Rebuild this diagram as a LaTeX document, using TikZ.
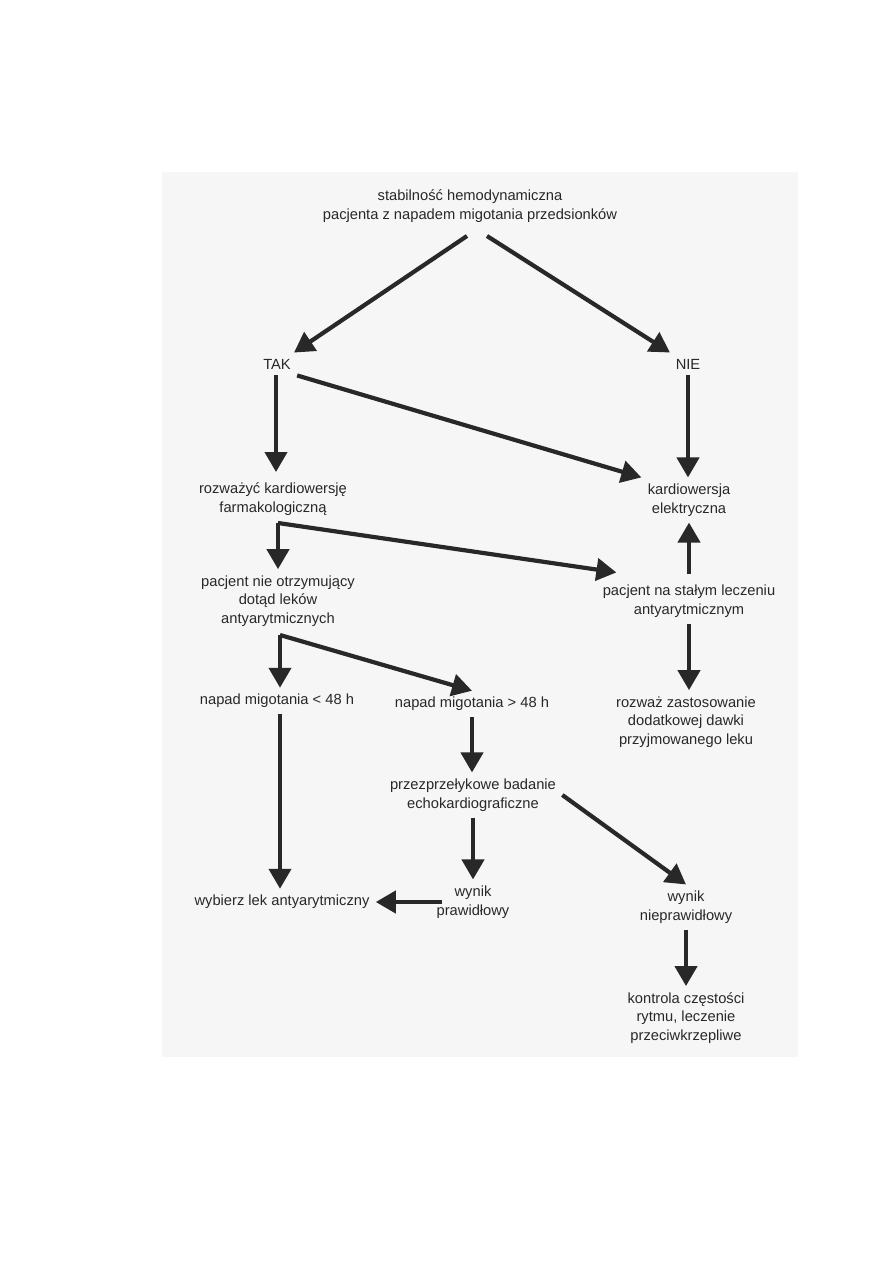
\documentclass[tikz,border=0pt]{standalone}
\usepackage{fontspec}
\setmainfont{Liberation Sans}
\usetikzlibrary{arrows.meta}
\definecolor{ink}{HTML}{282828}
\definecolor{paper}{HTML}{F6F6F6}
\begin{document}
\begin{tikzpicture}[x=0.5pt,y=-0.5pt]
    \tikzset{txt/.style = {align=center,inner sep=3pt,text=ink,font=\fontsize{7.35}{9.3}\selectfont},
             edge/.style = {draw=ink,line width=2.1pt,-{Triangle[length=10pt,width=11pt]}}}
    \useasboundingbox (0,0) rectangle (893,1263);
    \fill[paper] (162,172) rectangle (798,1057);
    % nodes
    \node[txt] (top) at (470,206) {stabilność hemodynamiczna\\pacjenta z napadem migotania przedsionków};
    \node[txt] (tak) at (277,364) {TAK};
    \node[txt] (nie) at (688,364) {NIE};
    \node[txt] (rozw) at (273,499) {rozważyć kardiowersję\\farmakologiczną};
    \node[txt] (kard) at (689,500) {kardiowersja\\elektryczna};
    \node[txt] (pnot) at (278,601) {pacjent nie otrzymujący\\dotąd leków\\antyarytmicznych};
    \node[txt] (pstal) at (689,601) {pacjent na stałym leczeniu\\antyarytmicznym};
    \node[txt] (lt) at (277,701) {napad migotania < 48 h};
    \node[txt] (gt) at (472,704) {napad migotania > 48 h};
    \node[txt] (dawka) at (686,722) {rozważ zastosowanie\\dodatkowej dawki\\przyjmowanego leku};
    \node[txt] (echo) at (473,795) {przezprzełykowe badanie\\echokardiograficzne};
    \node[txt] (lek) at (282,902) {wybierz lek antyarytmiczny};
    \node[txt] (ok) at (473,902) {wynik\\prawidłowy};
    \node[txt] (nok) at (686,907) {wynik\\nieprawidłowy};
    \node[txt] (rytm) at (686,1018) {kontrola częstości\\rytmu, leczenie\\przeciwkrzepliwe};
    \coordinate (tl) at (467,236);
    \coordinate (tr) at (487,236);
    \coordinate (c1) at (278,523);
    \coordinate (c2) at (280,635);
    % arrows
    \draw[edge] (tl) -- (tak);
    \draw[edge] (tr) -- (nie);
    \draw[edge] (tak.south east) -- (kard.north west);
    \draw[edge] (276,375) -- (276,472);
    \draw[edge] (nie.south) -- (nie.south |- kard.north);
    \draw[edge] (pstal.north -| kard) ++(0,-4) -- (kard.south);
    \draw[edge] (c1) -- (c1 |- pnot.north);
    \draw[edge] (c1) -- ([xshift=10pt,yshift=3pt]pstal.north west);
    \draw[edge] (pstal.south) -- (pstal.south |- dawka.north);
    \draw[edge] (c2) -- (c2 |- lt.north);
    \draw[edge] (c2) -- (gt.north);
    \draw[edge] (lt.south -| c2) -- (c2 |- lek.north);
    \draw[edge] (gt.south) -- (gt.south |- echo.north);
    \draw[edge] (echo.east) -- (nok.north);
    \draw[edge] (echo.south) -- (echo.south |- ok.north);
    \draw[edge] ([xshift=6pt]ok.west) -- (ok.west -| lek.east);
    \draw[edge] (nok.south) -- (nok.south |- rytm.north);
\end{tikzpicture}
\end{document}
